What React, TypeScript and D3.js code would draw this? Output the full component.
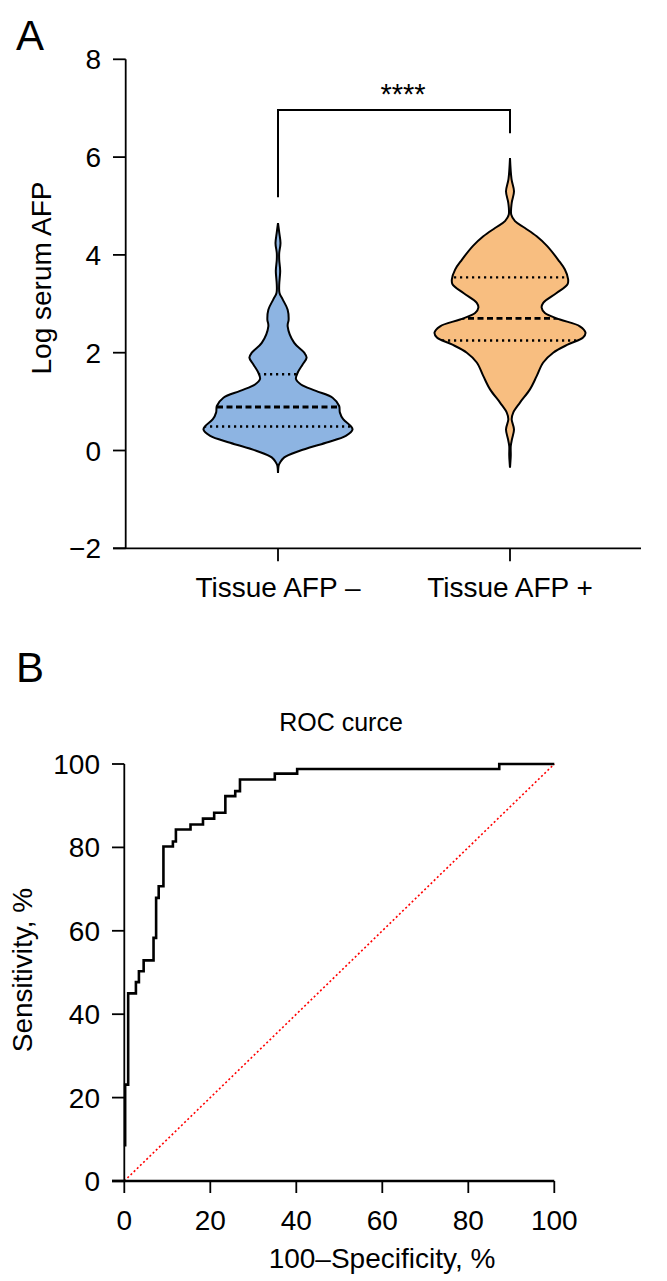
import * as d3 from 'd3';

// Panel A: violin outlines (value, density as % of widest)
const groups = ['Tissue AFP \u2013', 'Tissue AFP +'];
const groupColors = ['#8db4e2', '#f8be80'];

const negValues = [-0.46, -0.3, -0.25, -0.14, -0.01, 0.16, 0.3, 0.43, 0.5, 0.64, 0.78, 0.91, 1.08, 1.22, 1.35, 1.46, 1.59, 1.76, 1.9, 2.0, 2.2, 2.54, 2.68, 2.88, 3.09, 3.22, 3.39, 3.67, 3.9, 4.04, 4.24, 4.45, 4.65];
const negDensity = [0, 1, 2.6, 8.3, 28.1, 63.4, 89.8, 98.7, 96.4, 86.3, 81.9, 81.0, 72.3, 50.2, 30.4, 23.8, 26.0, 32.6, 37.9, 34.7, 21.5, 12.8, 14.1, 12.8, 6.2, 2.0, 1.6, 2.9, 1.6, 1.6, 3.3, 1.7, 0];

const posValues = [-0.35, -0.1, 0.09, 0.23, 0.43, 0.64, 0.78, 0.98, 1.25, 1.52, 1.8, 2.0, 2.17, 2.31, 2.41, 2.54, 2.68, 2.81, 2.92, 3.02, 3.22, 3.4, 3.5, 3.7, 3.9, 4.18, 4.38, 4.55, 4.69, 4.82, 5.06, 5.3, 5.55, 5.98];
const posDensity = [0, 1.0, 1.0, 2.6, 5.3, 2.2, 4.4, 13.2, 26.4, 35.3, 44.0, 57.2, 77.0, 96.8, 100, 92.5, 66.1, 46.2, 41.9, 44.0, 61.7, 76.2, 77.0, 72.7, 63.8, 49.3, 35.3, 19.8, 6.6, 1.7, 2.2, 5.3, 2.0, 0];

// quartiles [Q1, median, Q3]
const negQuartiles = [0.49, 0.89, 1.56];
const posQuartiles = [2.25, 2.7, 3.54];

const yTicksA = [-2, 0, 2, 4, 6, 8];

// Panel B: ROC curve corner points
const fpr = [0.2, 0.9, 2.7, 3.4, 4.5, 6.8, 7.4, 8.0, 9.1, 11.3, 12.0, 15.4, 18.3, 20.9, 23.5, 25.8, 26.9, 35.0, 40.2, 87.2, 100];
const tpr = [8.3, 23.1, 45.0, 47.7, 50.3, 52.9, 58.3, 67.9, 70.7, 80.2, 81.4, 84.3, 85.5, 86.9, 88.3, 92.3, 93.5, 96.3, 97.7, 98.8, 100];
const rocTicks = [0, 20, 40, 60, 80, 100];

const FONT = '"Liberation Sans", Arial, Helvetica, sans-serif';
const FS = 28;

const Violins = () => {
  const y = d3.scaleLinear().domain([-2, 8]).range([548.3, 59.3]);
  const x = d3.scalePoint<string>().domain(groups).range([278, 510]);
  const w = d3.scaleLinear().domain([0, 100]).range([0, 75.5]);

  const series = [
    { values: negValues, density: negDensity, q: negQuartiles },
    { values: posValues, density: posDensity, q: posQuartiles },
  ];

  return (
    <g>
      <text x={16} y={50} fontSize={42} fontFamily={FONT}>A</text>
      {/* y axis */}
      <line x1={125.7} x2={125.7} y1={y(8)} y2={y(-2)} stroke="#000" strokeWidth={1.8} />
      {yTicksA.map((t) => (
        <g key={t}>
          <line x1={113} x2={125.7} y1={y(t)} y2={y(t)} stroke="#000" strokeWidth={1.8} />
          <text x={101} y={y(t)} dy="0.36em" textAnchor="end" fontSize={FS} fontFamily={FONT}>
            {t < 0 ? '\u2212' + Math.abs(t) : t}
          </text>
        </g>
      ))}
      <text transform="translate(51,278) rotate(-90)" textAnchor="middle" fontSize={FS} fontFamily={FONT}>
        Log serum AFP
      </text>
      {/* x axis */}
      <line x1={113} x2={641} y1={y(-2)} y2={y(-2)} stroke="#000" strokeWidth={1.8} />
      {groups.map((g) => (
        <g key={g}>
          <line x1={x(g)} x2={x(g)} y1={y(-2)} y2={y(-2) + 13} stroke="#000" strokeWidth={1.8} />
          <text x={x(g)} y={597} textAnchor="middle" fontSize={FS} fontFamily={FONT}>{g}</text>
        </g>
      ))}
      {series.map((s, i) => {
        const cx = x(groups[i]) as number;
        const pts = s.values.map((v, j) => ({ v, d: s.density[j] }));
        const area = d3
          .area<{ v: number; d: number }>()
          .y((d) => y(d.v))
          .x0((d) => cx - w(d.d))
          .x1((d) => cx + w(d.d))
          .curve(d3.curveCatmullRom.alpha(0.5));
        const path = area(pts) as string;
        return (
          <g key={i}>
            <clipPath id={'vclip' + i}>
              <path d={path} />
            </clipPath>
            <path d={path} fill={groupColors[i]} stroke="none" />
            <g clipPath={`url(#vclip${i})`}>
              {s.q.map((q, k) => (
                <line
                  key={k}
                  x1={cx - 80}
                  x2={cx + 80}
                  y1={y(q)}
                  y2={y(q)}
                  stroke="#000"
                  strokeWidth={k === 1 ? 2.8 : 2.4}
                  strokeDasharray={k === 1 ? '6,3.5' : '2.2,3.8'}
                />
              ))}
            </g>
            <path d={path} fill="none" stroke="#000" strokeWidth={2} />
          </g>
        );
      })}
      {/* significance bracket */}
      <path
        d={`M${x(groups[0])},197.3 V110 H${x(groups[1])} V133.3`}
        fill="none"
        stroke="#000"
        strokeWidth={2}
      />
      <text x={403} y={104} textAnchor="middle" fontSize={29} fontFamily={FONT}>****</text>
    </g>
  );
};

const Roc = () => {
  const x = d3.scaleLinear().domain([0, 100]).range([124.3, 554.3]);
  const y = d3.scaleLinear().domain([0, 100]).range([1181, 764]);
  const pts = fpr.map((f, i) => [f, tpr[i]] as [number, number]);
  const line = d3
    .line<[number, number]>()
    .x((d) => x(d[0]))
    .y((d) => y(d[1]))
    .curve(d3.curveStepBefore);

  return (
    <g>
      <text x={16} y={682} fontSize={42} fontFamily={FONT}>B</text>
      <text x={341} y={731} textAnchor="middle" fontSize={25} fontFamily={FONT}>ROC curce</text>
      {/* chance line */}
      <line x1={x(0)} y1={y(0)} x2={x(100)} y2={y(100)} stroke="#ff0000" strokeWidth={1.6} strokeDasharray="2,2.4" />
      <path d={line(pts) as string} fill="none" stroke="#000" strokeWidth={2.6} />
      {/* axes */}
      <line x1={x(0)} x2={x(0)} y1={y(100)} y2={y(0)} stroke="#000" strokeWidth={1.8} />
      <line x1={112} x2={x(100)} y1={y(0)} y2={y(0)} stroke="#000" strokeWidth={2.4} />
      {rocTicks.map((t) => (
        <g key={t}>
          <line x1={112} x2={x(0)} y1={y(t)} y2={y(t)} stroke="#000" strokeWidth={t === 0 ? 2.4 : 1.8} />
          <text x={100} y={y(t)} dy="0.36em" textAnchor="end" fontSize={FS} fontFamily={FONT}>{t}</text>
          <line x1={x(t)} x2={x(t)} y1={y(0)} y2={y(0) + 12} stroke="#000" strokeWidth={1.8} />
          <text x={x(t)} y={1230} textAnchor="middle" fontSize={FS} fontFamily={FONT}>{t}</text>
        </g>
      ))}
      <text transform="translate(32,970) rotate(-90)" textAnchor="middle" fontSize={FS} fontFamily={FONT}>
        Sensitivity, %
      </text>
      <text x={382} y={1268} textAnchor="middle" fontSize={FS} fontFamily={FONT}>
        {'100\u2013Specificity, %'}
      </text>
    </g>
  );
};

export default function App() {
  return (
    <div style={{ position: 'absolute', left: 0, top: 0 }}>
      <svg width={667} height={1281} style={{ display: 'block', background: '#fff' }}>
        <Violins />
        <Roc />
      </svg>
    </div>
  );
}
